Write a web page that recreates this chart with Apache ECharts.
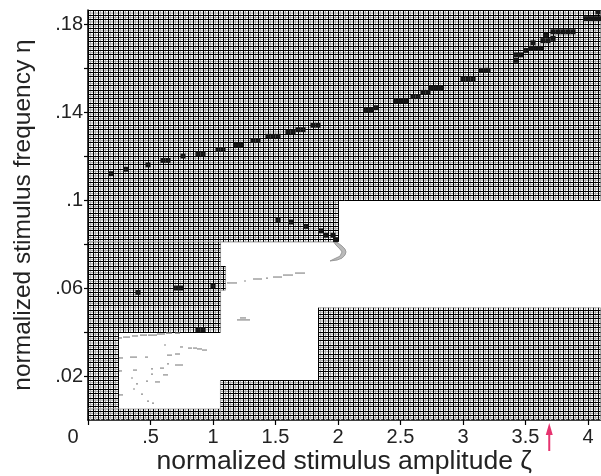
<!DOCTYPE html>
<html><head><meta charset="utf-8">
<script src="https://cdn.jsdelivr.net/npm/echarts@6/dist/echarts.min.js"></script>
<style>html,body{margin:0;padding:0;background:#fff}#c{width:601px;height:476px}</style>
</head><body><div id="c"></div>
<script>
// ---------- axes ----------
const xMin = 0, xMax = 4.1, yMin = 0, yMax = 0.1864;
const xTickValues = [0, 0.5, 1, 1.5, 2, 2.5, 3, 3.5, 4];
const xTickLabels = ['0', '.5', '1', '1.5', '2', '2.5', '3', '3.5', '4'];
const yTickValues = [0.02, 0.04, 0.06, 0.08, 0.1, 0.12, 0.14, 0.16, 0.18];
const yLabelValues = [0.02, 0.06, 0.1, 0.14, 0.18];
const yLabelTexts = ['.02', '.06', '.1', '.14', '.18'];
const xName = 'normalized stimulus amplitude ζ';
const yName = 'normalized stimulus frequency η';

// ---------- simulation mesh ----------
const meshStepX = 0.02, meshStepY = 0.001;
// hatched (computed) regions: x0, x1, y0, y1
const regX0 = [0,      0,     0,     1.06,  0,     0,     1.06,  1.84];
const regX1 = [4.1,    2.0,   1.06,  1.1,   0.24,  1.06,  1.84,  4.1];
const regY0 = [0.1,    0.081, 0.04,  0.059, 0.005, 0,     0,     0];
const regY1 = [0.1864, 0.1,   0.081, 0.07,  0.04,  0.005, 0.018, 0.051];

// ---------- black cells (locked responses) ----------
const cellW = 0.04, cellH = 0.0022;
const blackX = [0.18,0.30,0.48,0.60,0.64,0.76,0.88,0.92,1.04,1.08,1.18,1.22,1.32,1.36,1.44,1.48,1.52,1.60,1.64,1.68,1.72,1.80,1.84,
  2.22,2.26,2.30,2.46,2.50,2.54,2.60,2.64,2.68,2.72,2.74,2.78,2.82,3.00,3.04,3.08,3.14,3.18,3.20,
  3.42,3.42,3.46,3.50,3.54,3.58,3.62,3.56,3.64,3.68,3.72,3.66,3.72,3.76,3.80,3.84,3.88,3.98,4.02,4.06,4.10,4.08,
  1.52,1.62,1.74,1.86,1.90,1.96,1.98,
  0.40,0.70,0.74,1.00,0.88,0.92];
const blackY = [0.112,0.114,0.116,0.118,0.118,0.120,0.121,0.121,0.123,0.123,0.125,0.125,0.127,0.127,0.129,0.129,0.129,0.131,0.131,0.132,0.132,0.134,0.134,
  0.141,0.141,0.142,0.145,0.145,0.145,0.147,0.147,0.149,0.149,0.151,0.151,0.151,0.155,0.155,0.155,0.159,0.159,0.159,
  0.1635,0.1660,0.1660,0.1680,0.1690,0.1690,0.1690,0.1715,0.1725,0.1725,0.1735,0.1750,0.1765,0.1765,0.1765,0.1765,0.1765,0.1825,0.1825,0.1825,0.1825,0.1855,
  0.091,0.090,0.088,0.086,0.084,0.084,0.082,
  0.058,0.060,0.060,0.061,0.041,0.041];

// ---------- faint partial responses (grey dashes) ----------
const dashX0 = [0.248,0.28,0.352,0.416,0.48,0.552,0.624,0.696, 0.248,0.336,0.456,0.632,0.696, 0.608,0.736,0.8,0.84,0.872,0.912,
  0.248,0.36,0.504,0.576,0.632,0.696, 0.344,0.464,0.536,0.504,0.6,0.384,0.36,0.424,0.472,0.512,0.248,
  1.112,1.248,1.32,1.424,1.48,1.56,1.656,1.192,1.216];
const dashX1 = [0.272,0.336,0.4,0.472,0.552,0.616,0.672,0.736, 0.28,0.392,0.48,0.672,0.736, 0.624,0.76,0.832,0.872,0.912,0.952,
  0.272,0.392,0.52,0.608,0.648,0.76, 0.36,0.48,0.576,0.52,0.64,0.4,0.376,0.44,0.488,0.528,0.28,
  1.192,1.264,1.392,1.44,1.552,1.64,1.736,1.296,1.264];
const dashY = [0.0373,0.0377,0.0382,0.0386,0.0386,0.0391,0.0395,0.0395, 0.0282,0.0286,0.0286,0.0295,0.03, 0.0341,0.0332,0.0327,0.0327,0.0323,0.0318,
  0.0223,0.0227,0.0232,0.0236,0.0255,0.025, 0.0191,0.0177,0.0173,0.0209,0.0205,0.0164,0.0141,0.0118,0.0086,0.0077,0.0114,
  0.0623,0.0632,0.0641,0.0645,0.065,0.0659,0.0668,0.0455,0.0464];

// crescent of partial responses
const crescentX = [1.96,2.0,2.032,2.056,2.064,2.056,2.032,1.992,1.936, 1.968,2.016,2.032,2.016,1.984];
const crescentY = [0.0814,0.0805,0.0791,0.0777,0.0764,0.075,0.0736,0.0727,0.0723, 0.0732,0.0745,0.0764,0.0777,0.0795];

// marked amplitude
const arrowX = 3.69;

// ---------- build ----------
const regionData = regX0.map((v, i) => [v, regX1[i], regY0[i], regY1[i]]);
const blackData = blackX.map((v, i) => [v, blackY[i]]);
const dashData = dashX0.map((v, i) => [v, dashX1[i], dashY[i]]);

const crisp = p => Math.floor(p) + 0.5;

function renderRegion(params, api) {
  const x0 = api.value(0), x1 = api.value(1), y0 = api.value(2), y1 = api.value(3);
  const pTop = api.coord([x0, y1])[1], pBot = api.coord([x0, y0])[1];
  const pL = api.coord([x0, y0])[0], pR = api.coord([x1, y0])[0];
  const minor = [], major = [];
  const kx0 = Math.ceil(x0 / meshStepX - 1e-6), kx1 = Math.floor(x1 / meshStepX + 1e-6);
  for (let k = kx0; k <= kx1; k++) {
    const px = api.coord([k * meshStepX, y0])[0];
    if (k % 2 === 0) major.push({type: 'line', shape: {x1: crisp(px), y1: pTop, x2: crisp(px), y2: pBot}, style: {stroke: '#000', lineWidth: 1}});
    else minor.push({type: 'line', shape: {x1: px, y1: pTop, x2: px, y2: pBot}, style: {stroke: '#aaaaaa', lineWidth: 1.1}});
  }
  const ky0 = Math.ceil(y0 / meshStepY - 1e-6), ky1 = Math.floor(y1 / meshStepY + 1e-6);
  for (let k = ky0; k <= ky1; k++) {
    const py = api.coord([x0, k * meshStepY])[1];
    if (k % 2 === 0) major.push({type: 'line', shape: {x1: pL, y1: crisp(py), x2: pR, y2: crisp(py)}, style: {stroke: '#000', lineWidth: 1}});
    else minor.push({type: 'line', shape: {x1: pL, y1: py, x2: pR, y2: py}, style: {stroke: '#aaaaaa', lineWidth: 1.1}});
  }
  return {type: 'group', children: minor.concat(major), silent: true};
}

function renderCell(params, api) {
  const x = api.value(0), y = api.value(1);
  const a = api.coord([x - cellW / 2, y + cellH / 2]);
  const b = api.coord([x + cellW / 2, y - cellH / 2]);
  return {type: 'rect', shape: {x: a[0], y: a[1], width: b[0] - a[0], height: b[1] - a[1]}, style: {fill: '#141414'}};
}

function renderDash(params, api) {
  const a = api.coord([api.value(0), api.value(2)]);
  const b = api.coord([api.value(1), api.value(2)]);
  return {type: 'line', shape: {x1: a[0], y1: a[1], x2: Math.max(b[0], a[0] + 1.5), y2: b[1]}, style: {stroke: '#8a8a8a', lineWidth: 1.2}};
}

function renderCrescent(params, api) {
  const pts = crescentX.map((v, i) => api.coord([v, crescentY[i]]));
  return {type: 'polygon', shape: {points: pts}, style: {fill: 'rgba(140,140,140,0.6)', stroke: '#8a8a8a', lineWidth: 0.8}};
}

function renderArrow(params, api) {
  const p = api.coord([api.value(0), 0]);
  const x = p[0], y = p[1];
  const c = '#e6336f';
  return {type: 'group', children: [
    {type: 'line', shape: {x1: x, y1: y + 12, x2: x, y2: y + 31}, style: {stroke: c, lineWidth: 2}},
    {type: 'polygon', shape: {points: [[x, y + 3], [x - 3.5, y + 15], [x + 3.5, y + 15]]}, style: {fill: c}}
  ]};
}

const chart = echarts.init(document.getElementById('c'), null, {renderer: 'canvas'});
const fontFam = '"Liberation Sans", Arial, sans-serif';
chart.setOption({
  animation: false,
  backgroundColor: '#fff',
  grid: {left: 88, right: 0.5, top: 10, bottom: 56, containLabel: false, outerBoundsMode: 'none'},
  xAxis: {
    type: 'value', min: xMin, max: xMax,
    name: xName, nameLocation: 'middle', nameGap: 28, nameMoveOverlap: false,
    nameTextStyle: {fontFamily: fontFam, fontSize: 26.5, color: '#222'},
    axisLine: {show: true, onZero: false, lineStyle: {color: '#000', width: 1.5}},
    axisTick: {show: true, inside: false, length: 5, customValues: xTickValues, lineStyle: {color: '#000', width: 1.2}},
    axisLabel: {
      customValues: xTickValues, margin: 7, fontFamily: fontFam, fontSize: 20, color: '#222',
      formatter: v => { const i = xTickValues.findIndex(t => Math.abs(t - v) < 1e-9); if (i < 0) return ''; return i === 0 ? '{z|' + xTickLabels[0] + '}' : xTickLabels[i]; },
      rich: {z: {fontFamily: fontFam, fontSize: 20, color: '#222', padding: [0, 30, 0, 0]}}
    },
    splitLine: {show: false}
  },
  yAxis: {
    type: 'value', min: yMin, max: yMax,
    name: yName, nameLocation: 'middle', nameGap: 52, nameMoveOverlap: false,
    nameTextStyle: {fontFamily: fontFam, fontSize: 24.5, color: '#222'},
    axisLine: {show: true, onZero: false, lineStyle: {color: '#000', width: 1.5}},
    axisTick: {show: true, inside: false, length: 4, customValues: yTickValues, lineStyle: {color: '#000', width: 1.2}},
    axisLabel: {
      customValues: yLabelValues, margin: 5, fontFamily: fontFam, fontSize: 20, color: '#222',
      formatter: v => { const i = yLabelValues.findIndex(t => Math.abs(t - v) < 1e-9); return i < 0 ? '' : yLabelTexts[i]; }
    },
    splitLine: {show: false}
  },
  series: [
    {type: 'custom', name: 'mesh', data: regionData, renderItem: renderRegion, clip: true, silent: true, encode: {x: [0, 1], y: [2, 3]}},
    {type: 'custom', name: 'partial', data: dashData, renderItem: renderDash, clip: true, silent: true, encode: {x: [0, 1], y: 2}},
    {type: 'custom', name: 'crescent', data: [[crescentX[0], crescentY[0]]], renderItem: renderCrescent, clip: true, silent: true},
    {type: 'custom', name: 'locked', data: blackData, renderItem: renderCell, clip: true, silent: true},
    {type: 'custom', name: 'marker', data: [[arrowX, 0]], renderItem: renderArrow, clip: false, silent: true, z: 10}
  ]
});
</script></body></html>
